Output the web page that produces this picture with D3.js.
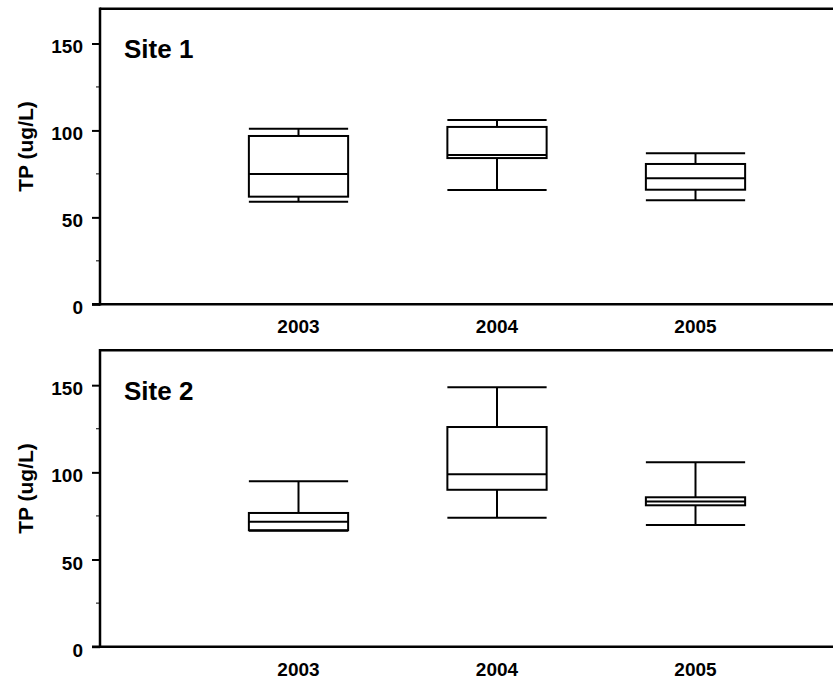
<!DOCTYPE html>
<html>
<head>
<meta charset="utf-8">
<script src="https://cdn.jsdelivr.net/npm/d3@7"></script>
<style>
  html, body { margin: 0; padding: 0; background: #fff; }
  svg { display: block; }
  text { font-family: "Liberation Sans", Arial, Helvetica, sans-serif; font-weight: bold; fill: #000; }
</style>
</head>
<body>
<svg id="chart" width="833" height="679"></svg>
<script>
// Total phosphorus box plots by year, one panel per site
const years = ["2003", "2004", "2005"];
const sites = ["Site 1", "Site 2"];
const yTicks = [0, 50, 100, 150];
const yMinorTicks = [25, 75, 125];

// Five-number summaries (ug/L), one array per statistic, indexed [site][year]
const whiskerLow  = [[59.0, 65.7, 59.8], [66.5, 74.0, 69.8]];
const quartileLow = [[61.9, 84.1, 65.9], [66.8, 90.0, 81.1]];
const medians     = [[74.9, 85.9, 72.5], [71.7, 98.9, 83.3]];
const quartileHigh= [[96.8, 102.0, 80.7], [76.7, 126.0, 85.7]];
const whiskerHigh = [[101.0, 106.0, 86.8], [94.9, 148.8, 105.8]];

const svg = d3.select("#chart");
const W = 833;
const axisX = 100;
const panels = [
  { top: 8.7, bottom: 304.3 },
  { top: 350.3, bottom: 646.7 }
];

// Category positions: years sit at 1, 2, 3 on a 0..4 track
const x = d3.scaleLinear().domain([0, 4]).range([axisX, 894]);
const halfW = (x(1) - x(0)) * 0.25;

panels.forEach((p, si) => {
  const y = d3.scaleLinear().domain([0, 170]).range([p.bottom, p.top]);
  const g = svg.append("g");

  // frame: top border and bottom axis line running to the right edge
  g.append("line").attr("x1", axisX).attr("x2", W + 2)
    .attr("y1", y(170)).attr("y2", y(170))
    .attr("stroke", "#000").attr("stroke-width", 2.5);
  g.append("line").attr("x1", axisX - 8).attr("x2", W + 2)
    .attr("y1", y(0)).attr("y2", y(0))
    .attr("stroke", "#000").attr("stroke-width", 2.5);

  // y axis
  const yAxis = d3.axisLeft(y).tickValues(yTicks).tickSize(8).tickPadding(9);
  const ya = g.append("g").attr("transform", `translate(${axisX},0)`).call(yAxis);
  ya.select(".domain").attr("stroke", "#000").attr("stroke-width", 2.5)
    .attr("d", `M0,${y(0) + 1.2}V${y(170) - 1.2}`);
  ya.selectAll(".tick line").attr("stroke", "#000").attr("stroke-width", 2);
  ya.selectAll(".tick text")
    .style("font-size", "19px").style("font-weight", "bold")
    .style("font-family", "'Liberation Sans', Arial, sans-serif")
    .attr("dy", "0.5em");

  // minor ticks
  g.append("g").attr("transform", `translate(${axisX},0)`)
    .selectAll("line").data(yMinorTicks).join("line")
    .attr("x1", -4).attr("x2", 0)
    .attr("y1", d => y(d)).attr("y2", d => y(d))
    .attr("stroke", "#000").attr("stroke-width", 1);

  // year labels
  g.selectAll("text.year").data(years).join("text")
    .attr("class", "year")
    .attr("x", (d, i) => x(i + 1))
    .attr("y", y(0) + 29)
    .attr("text-anchor", "middle")
    .style("font-size", "19px")
    .text(d => d);

  // y-axis title
  g.append("text")
    .attr("transform", `translate(33,${(p.top + p.bottom) / 2 - 10}) rotate(-90)`)
    .attr("text-anchor", "middle")
    .style("font-size", "21px")
    .text("TP (ug/L)");

  // site label
  g.append("text")
    .attr("x", 124)
    .attr("y", p.top + 49.6)
    .style("font-size", "26px")
    .text(sites[si]);

  // boxes
  const stroke = { stroke: "#000", "stroke-width": 2 };
  years.forEach((yr, i) => {
    const cx = x(i + 1);
    const bg = g.append("g");
    const put = (sel) => { Object.entries(stroke).forEach(([k, v]) => sel.attr(k, v)); return sel; };
    // whiskers
    put(bg.append("line").attr("x1", cx).attr("x2", cx)
      .attr("y1", y(whiskerHigh[si][i])).attr("y2", y(quartileHigh[si][i])));
    put(bg.append("line").attr("x1", cx).attr("x2", cx)
      .attr("y1", y(quartileLow[si][i])).attr("y2", y(whiskerLow[si][i])));
    // caps
    [whiskerHigh[si][i], whiskerLow[si][i]].forEach(v => {
      put(bg.append("line").attr("x1", cx - halfW).attr("x2", cx + halfW)
        .attr("y1", y(v)).attr("y2", y(v)));
    });
    // box
    put(bg.append("rect")
      .attr("x", cx - halfW)
      .attr("y", y(quartileHigh[si][i]))
      .attr("width", halfW * 2)
      .attr("height", y(quartileLow[si][i]) - y(quartileHigh[si][i]))
      .attr("fill", "none"));
    // median
    put(bg.append("line").attr("x1", cx - halfW).attr("x2", cx + halfW)
      .attr("y1", y(medians[si][i])).attr("y2", y(medians[si][i])));
  });
});
</script>
</body>
</html>
